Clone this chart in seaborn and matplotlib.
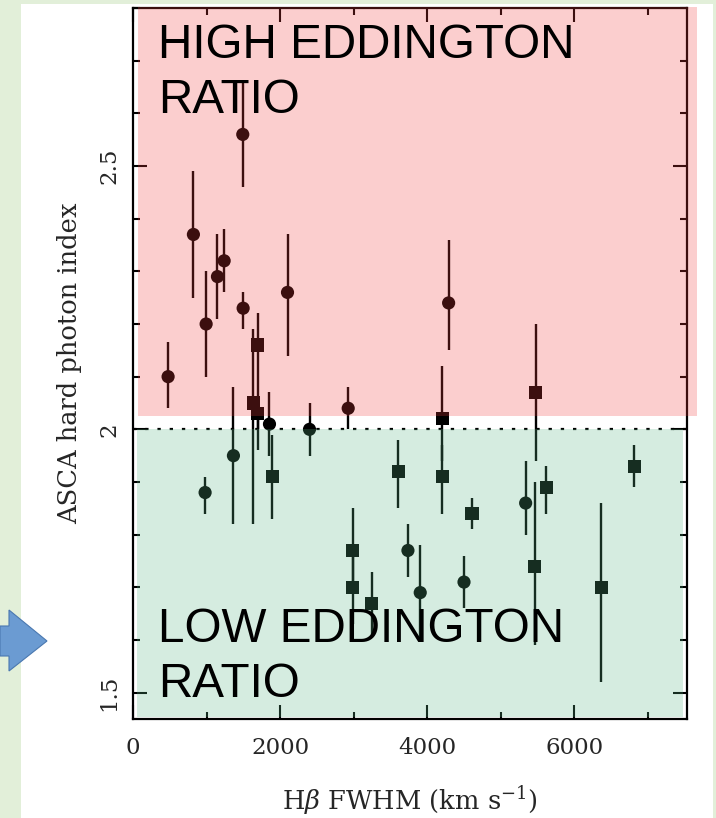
import matplotlib
matplotlib.use("Agg")
import matplotlib.pyplot as plt
import seaborn as sns
import pandas as pd
from matplotlib.patches import Rectangle, Polygon
from matplotlib.transforms import blended_transform_factory
from matplotlib.ticker import FixedLocator, MultipleLocator, FixedFormatter

# ---------------- data ----------------
circle_fwhm = [477, 821, 994, 1148, 1239, 1492, 1497, 2100, 4290, 1855, 2399, 2925,
               980, 1365, 3737, 3904, 4499, 5337]
circle_index = [2.10, 2.37, 2.20, 2.29, 2.32, 2.56, 2.23, 2.26, 2.24, 2.01, 2.00, 2.04,
                1.88, 1.95, 1.77, 1.69, 1.71, 1.86]
circle_lo = [2.04, 2.25, 2.10, 2.21, 2.26, 2.46, 2.19, 2.14, 2.15, 1.95, 1.95, 2.00,
             1.84, 1.82, 1.72, 1.60, 1.66, 1.80]
circle_hi = [2.165, 2.49, 2.30, 2.37, 2.38, 2.66, 2.26, 2.37, 2.36, 2.07, 2.05, 2.08,
             1.91, 2.08, 1.82, 1.78, 1.76, 1.94]

square_fwhm = [1637, 1696, 1696, 1892, 2988, 2988, 3247, 3608, 4203, 4203, 4607,
               5473, 5459, 5618, 6366, 6815]
square_index = [2.05, 2.16, 2.03, 1.91, 1.77, 1.70, 1.67, 1.92, 2.02, 1.91, 1.84,
                2.07, 1.74, 1.89, 1.70, 1.93]
square_lo = [1.82, 1.96, 2.00, 1.83, 1.70, 1.63, 1.61, 1.85, 1.94, 1.84, 1.81,
             1.94, 1.59, 1.84, 1.52, 1.89]
square_hi = [2.19, 2.22, 2.06, 1.99, 1.85, 1.77, 1.73, 1.98, 2.12, 1.97, 1.87,
             2.20, 1.90, 1.93, 1.86, 1.97]

x_major = [0, 2000, 4000, 6000]
x_major_labels = ["0", "2000", "4000", "6000"]
y_major = [1.5, 2.0, 2.5]
y_major_labels = ["1.5", "2", "2.5"]
divider = 2.0
high_label = ["HIGH EDDINGTON", "RATIO"]
low_label = ["LOW EDDINGTON", "RATIO"]

# ---------------- style ----------------
sns.set_style("ticks")
plt.rcParams["font.family"] = ["DejaVu Serif"]
plt.rcParams["mathtext.fontset"] = "dejavuserif"

W, H = 716, 818
fig = plt.figure(figsize=(W / 100, H / 100), dpi=100, facecolor="white")

def fx(x):
    return x / W

def fy(y):
    return 1 - y / H

# slide background strips
bg = "#E2EFD9"
fig.add_artist(Rectangle((0, 0), fx(21), 1, transform=fig.transFigure,
                         facecolor=bg, edgecolor="none", zorder=0))
fig.add_artist(Rectangle((0, fy(4)), 1, 4 / H, transform=fig.transFigure,
                         facecolor=bg, edgecolor="none", zorder=0))
fig.add_artist(Rectangle((fx(713), 0), fx(3), 1, transform=fig.transFigure,
                         facecolor=bg, edgecolor="none", zorder=0))

# blue arrow
arrow_px = [(0, 626), (9, 626), (9, 610), (47, 641), (9, 671), (9, 656), (0, 656)]
fig.add_artist(Polygon([(fx(a), fy(b)) for a, b in arrow_px], closed=True,
                       transform=fig.transFigure, facecolor="#6B9BD2",
                       edgecolor="#4A78B0", linewidth=0.8, zorder=2))

ax = fig.add_axes([fx(133), fy(719), 554 / W, 711 / H])
ax.set_facecolor("white")

df = pd.DataFrame({
    "fwhm": circle_fwhm + square_fwhm,
    "index": circle_index + square_index,
    "kind": ["circle"] * len(circle_fwhm) + ["square"] * len(square_fwhm),
})
sns.scatterplot(data=df, x="fwhm", y="index", style="kind",
                markers={"circle": "o", "square": "s"}, color="black",
                s=90, edgecolor="none", linewidth=0, legend=False, ax=ax, zorder=4)

ax.vlines(circle_fwhm, circle_lo, circle_hi, colors="black", linewidth=1.7, zorder=3)
ax.vlines(square_fwhm, square_lo, square_hi, colors="black", linewidth=1.7, zorder=3)

ax.axhline(divider, color="black", linestyle=(0, (1.5, 4.0)), linewidth=1.6, zorder=3)

ax.set_xlim(0, 7530)
ax.set_ylim(1.45, 2.80)

ax.xaxis.set_major_locator(FixedLocator(x_major))
ax.xaxis.set_major_formatter(FixedFormatter(x_major_labels))
ax.xaxis.set_minor_locator(MultipleLocator(1000))
ax.yaxis.set_major_locator(FixedLocator(y_major))
ax.yaxis.set_major_formatter(FixedFormatter(y_major_labels))
ax.yaxis.set_minor_locator(MultipleLocator(0.1))

ax.tick_params(which="both", direction="in", top=True, right=True,
               width=1.5, color="black", labelsize=16.5)
ax.tick_params(which="major", length=10)
ax.tick_params(which="minor", length=5)
ax.tick_params(axis="x", pad=13)
ax.tick_params(axis="y", pad=9, labelrotation=90)
for lab in ax.get_yticklabels():
    lab.set_va("center")

for sp in ax.spines.values():
    sp.set_linewidth(1.6)
    sp.set_color("black")

ax.set_xlabel(r"H$\beta$ FWHM (km s$^{-1}$)", fontsize=18.5)
ax.set_ylabel("ASCA hard photon index", fontsize=18.5)
ax.xaxis.set_label_coords(0.5, (719 - 801) / 711)
ax.xaxis.label.set_va("center")
ax.yaxis.set_label_coords((70 - 133) / 554, 0.5)
ax.yaxis.label.set_va("center")

# translucent region overlays (on top of the markers)
trans = blended_transform_factory(ax.transAxes, ax.transData)
ax.add_patch(Rectangle((5 / 554, 2.025), (697 - 138) / 554, 2.802 - 2.025,
                       transform=trans, facecolor=(240 / 255, 60 / 255, 60 / 255),
                       alpha=0.25, edgecolor="none", clip_on=False, zorder=10))
ax.add_patch(Rectangle((4 / 554, 1.454), (683 - 137) / 554, divider - 1.454,
                       transform=trans, facecolor=(91 / 255, 183 / 255, 135 / 255),
                       alpha=0.25, edgecolor="none", clip_on=False, zorder=10))

# region captions
txt_kw = dict(fontsize=34.3, family=["Liberation Sans", "DejaVu Sans"],
              ha="left", va="baseline", color="black", zorder=20)
fig.text(fx(158), fy(58), high_label[0], **txt_kw)
fig.text(fx(158), fy(113), high_label[1], **txt_kw)
fig.text(fx(158), fy(642), low_label[0], **txt_kw)
fig.text(fx(158), fy(697), low_label[1], **txt_kw)

fig.savefig("out.png", dpi=100, facecolor=fig.get_facecolor())
